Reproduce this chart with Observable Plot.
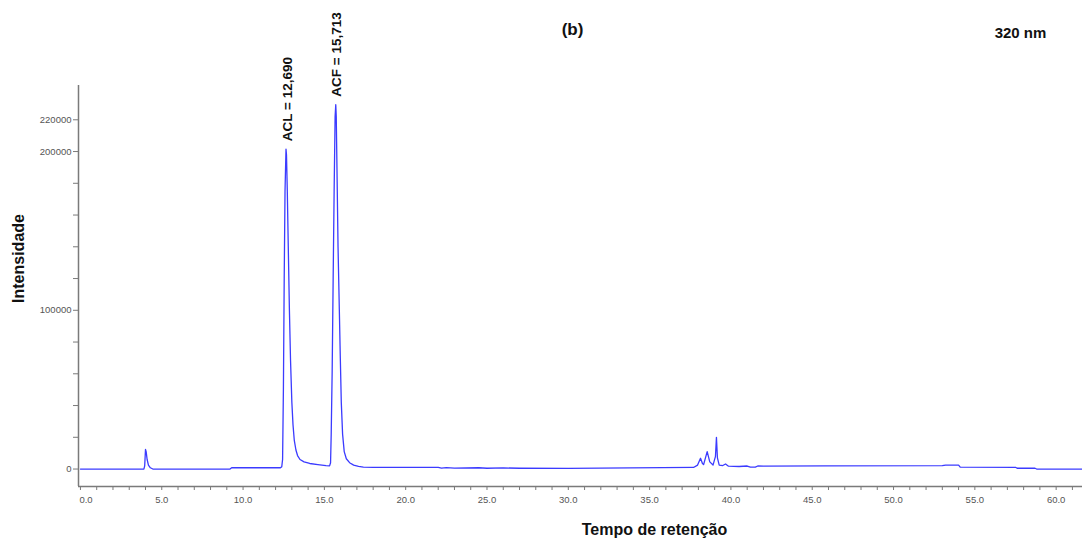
<!DOCTYPE html>
<html>
<head>
<meta charset="utf-8">
<script src="https://cdn.jsdelivr.net/npm/d3@7"></script>
<script src="https://cdn.jsdelivr.net/npm/@observablehq/plot@0.6"></script>
<style>
  html, body { margin: 0; padding: 0; background: #fff; }
  #chart svg { display: block; }
</style>
</head>
<body>
<div id="chart"></div>
<script>
// Retention time (min) and detector intensity
const time = [
  0, 2.2, 3.90, 3.95, 4.00, 4.04, 4.10, 4.18, 4.30, 4.45,
  9.20, 9.30, 12.30, 12.38, 12.43, 12.48, 12.53, 12.58, 12.64, 12.67,
  12.72, 12.78, 12.85, 12.92, 13.00, 13.07, 13.15, 13.25, 13.35, 13.50,
  13.75, 14.10, 14.60, 15.10, 15.32, 15.38, 15.42, 15.48, 15.54, 15.60,
  15.66, 15.70, 15.73, 15.78, 15.84, 15.92, 15.98, 16.04, 16.12, 16.22,
  16.35, 16.55, 16.80, 17.10, 17.40, 18.00, 22.00, 22.20, 22.50, 23.00,
  24.50, 25.00, 26.00, 27.00, 30.00, 37.70, 37.95, 38.13, 38.25, 38.32,
  38.54, 38.70, 38.90, 39.05, 39.11, 39.17, 39.28, 39.50, 39.67, 39.85,
  40.50, 41.00, 41.20, 41.50, 41.65, 42.00, 45.80, 53.00, 53.20, 54.00,
  54.10, 57.50, 57.60, 58.70, 58.80, 61.62
];
const intensity = [
  0, 0, 0, 2000, 12300, 11000, 6000, 2500, 800, 0,
  0, 800, 800, 1500, 6000, 50000, 120000, 175000, 201500, 198000,
  175000, 140000, 100000, 68000, 42000, 28000, 18000, 12000, 8500, 6000,
  4500, 3500, 2800, 2200, 2000, 4000, 22000, 62000, 120000, 175000,
  222000, 229500, 222000, 185000, 140000, 100000, 70000, 42000, 22000, 11000,
  6500, 4000, 2500, 1700, 1200, 1100, 1100, 600, 900, 600,
  800, 500, 700, 500, 400, 1000, 2500, 6800, 3500, 2800,
  11000, 4500, 2500, 8000, 20000, 7000, 2500, 2200, 3200, 1800,
  1600, 1900, 1200, 1200, 1900, 1800, 2000, 2200, 2500, 2500,
  1200, 1100, 500, 500, 0, 0
];

// Peak annotations
const peakTimes = [12.69, 15.713];
const peakHeights = [201500, 229500];
const peakLabels = ["ACL = 12,690", "ACF = 15,713"];

// Axis ticks
const xTicks = d3.range(0, 62, 1);
const xLabelTicks = [5, 10, 15, 20, 25, 30, 35, 40, 45, 50, 55, 60];
const yTicks = d3.range(0, 220001, 20000);
const yLabelTicks = [0, 100000, 200000, 220000];

const xDomain = [-0.12, 61.62];
const yDomain = [-11000, 241600];

const data = time.map((t, i) => ({t, v: intensity[i]}));
const peaks = peakTimes.map((t, i) => ({t, v: peakHeights[i], label: peakLabels[i]}));

const font = "'Liberation Sans', Arial, sans-serif";
const center = {textAnchor: "middle", lineAnchor: "middle", frameAnchor: "top-left"};

const chart = Plot.plot({
  width: 1082,
  height: 543,
  marginLeft: 78,
  marginRight: 0,
  marginTop: 85,
  marginBottom: 57,
  x: {domain: xDomain},
  y: {domain: yDomain},
  style: {fontFamily: font, background: "#fff", overflow: "visible"},
  marks: [
    // axis lines
    Plot.ruleY([yDomain[0]], {stroke: "#7a7a7a", strokeWidth: 1.5}),
    Plot.ruleX([xDomain[0]], {stroke: "#7a7a7a", strokeWidth: 1.5}),
    // x axis
    Plot.axisX({ticks: xTicks, tickFormat: () => "", tickSize: 4, stroke: "#7a7a7a", label: null}),
    Plot.axisX({ticks: xLabelTicks, tickFormat: d => d.toFixed(1), tickSize: 0, tickPadding: 10,
      fill: "#555", fontSize: 9.5, label: null}),
    Plot.axisX({ticks: [0], tickFormat: d => d.toFixed(1), tickSize: 0, tickPadding: 10,
      textAnchor: "start", dx: -1, fill: "#555", fontSize: 9.5, label: null}),
    // y axis
    Plot.axisY({ticks: yTicks, tickFormat: d => yLabelTicks.includes(d) ? String(d) : "",
      tickSize: 5, tickPadding: 2, stroke: "#7a7a7a", fill: "#555", fontSize: 9.5, label: null}),
    // chromatogram
    Plot.line(data, {x: "t", y: "v", stroke: "#3b3bff", strokeWidth: 1.3, curve: "linear"}),
    // peak labels
    Plot.text(peaks, {x: "t", y: "v", text: "label", rotate: -90, textAnchor: "start",
      dy: -8, dx: 1, fontSize: 13.5, fontWeight: "bold", fill: "#111"}),
    // titles
    Plot.text(["(b)"], {...center, dx: 494, dy: -56, fontSize: 17,
      fontWeight: "bold", fill: "#111"}),
    Plot.text(["320 nm"], {...center, dx: 942, dy: -52, fontSize: 15,
      fontWeight: "bold", fill: "#111"}),
    Plot.text(["Intensidade"], {...center, dx: -60, dy: 173, rotate: -90,
      fontSize: 16, fontWeight: "bold", fill: "#111"}),
    Plot.text(["Tempo de retenção"], {...center, dx: 576, dy: 444,
      fontSize: 16, fontWeight: "bold", fill: "#111"})
  ]
});

document.getElementById("chart").appendChild(chart);
</script>
</body>
</html>
